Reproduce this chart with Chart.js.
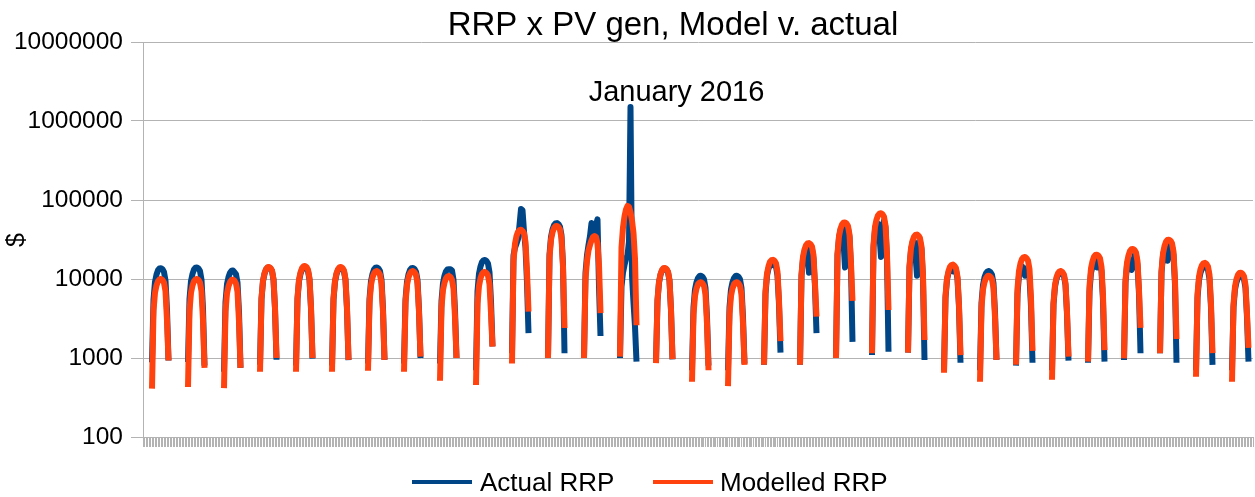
<!DOCTYPE html>
<html>
<head>
<meta charset="utf-8">
<script src="https://cdn.jsdelivr.net/npm/chart.js@4/dist/chart.umd.min.js"></script>
<style>
  html, body { margin: 0; padding: 0; background: #ffffff; }
</style>
</head>
<body>
<canvas id="myChart" width="1255" height="497"></canvas>
<script>
const titleText = 'RRP x PV gen, Model v. actual'
const noteText = 'January 2016'
const yTitle = '$'

// one representative day per month, hourly
const months = [
  'Dec 2014', 'Jan 2015', 'Feb 2015', 'Mar 2015', 'Apr 2015', 'May 2015', 'Jun 2015', 'Jul 2015',
  'Aug 2015', 'Sep 2015', 'Oct 2015', 'Nov 2015', 'Dec 2015', 'Jan 2016', 'Feb 2016', 'Mar 2016',
  'Apr 2016', 'May 2016', 'Jun 2016', 'Jul 2016', 'Aug 2016', 'Sep 2016', 'Oct 2016', 'Nov 2016',
  'Dec 2016', 'Jan 2017', 'Feb 2017', 'Mar 2017', 'Apr 2017', 'May 2017', 'Jun 2017'
]
const hours = [0, 1, 2, 3, 4, 5, 6, 7, 8, 9, 10, 11, 12, 13, 14, 15, 16, 17, 18, 19, 20, 21, 22, 23]
const pvHours = [6, 7, 8, 9, 10, 11, 12, 13, 14, 15, 16, 17]
const lastHour = 20

const actualRRP = [
  [880, 5500, 9200, 11400, 12900, 13600, 13700, 13300, 12300, 9600, 4100, 930],
  [890, 5600, 9400, 11600, 13200, 13900, 14000, 13600, 12600, 9800, 4200, 800],
  [670, 5100, 8600, 10600, 12000, 12700, 12800, 12200, 11500, 9000, 3800, 750],
  [820, 5600, 9400, 11600, 13200, 13900, 14000, 13600, 12600, 9800, 4200, 950],
  [800, 5600, 9400, 11600, 13200, 13900, 14000, 13600, 12600, 9800, 4200, 980],
  [800, 5500, 9200, 11500, 13000, 13700, 13800, 13400, 12400, 9700, 4100, 940],
  [850, 5600, 9400, 11600, 13200, 13900, 14000, 13600, 12600, 9800, 4200, 945],
  [850, 5500, 9200, 11500, 13000, 13700, 13800, 13400, 12400, 9700, 4100, 1000],
  [850, 5300, 8900, 11000, 12500, 13200, 13300, 13300, 12800, 9800, 4000, 1000],
  [700, 7000, 11700, 14400, 16400, 17200, 17400, 16900, 15700, 12200, 5200, 1400],
  [1150, 20000, 25000, 28000, 32000, 48000, 77000, 74000, 40000, 25000, 9000, 2070],
  [1000, 20400, 34200, 42300, 47900, 50500, 51000, 49500, 45900, 35700, 15300, 1150],
  [1000, 12000, 20000, 27000, 35000, 51000, 40000, 38000, 48000, 57000, 8000, 1900],
  [1000, 8000, 12000, 15000, 18000, 20000, 30000, 1500000, 11000, 5000, 2500, 900],
  [900, 5300, 9000, 11300, 12800, 13500, 13600, 13200, 12200, 9500, 4000, 960],
  [700, 4400, 7400, 9100, 10300, 10900, 11000, 10700, 9900, 7700, 3300, 800],
  [700, 4400, 7400, 9100, 10300, 10900, 11000, 10700, 9900, 7700, 3300, 850],
  [820, 6500, 11000, 13500, 15000, 15500, 15000, 15500, 14500, 11000, 4800, 1170],
  [820, 11000, 18000, 22000, 25000, 20000, 12000, 22000, 24000, 18000, 8000, 2070],
  [1000, 20000, 33000, 42000, 45000, 30000, 14000, 35000, 44000, 34000, 14000, 1600],
  [1090, 25000, 42000, 52000, 50000, 35000, 19000, 45000, 55000, 45000, 18000, 1200],
  [1170, 14000, 23000, 29000, 30000, 20000, 11000, 25000, 30000, 24000, 10000, 945],
  [700, 5800, 9800, 12000, 13200, 13500, 12500, 13500, 13000, 10000, 4400, 870],
  [700, 5000, 8400, 10500, 11800, 12500, 12600, 12200, 11300, 8800, 3800, 945],
  [800, 6500, 11000, 13500, 14500, 13000, 11000, 13700, 13000, 10500, 4500, 870],
  [700, 4800, 8000, 10000, 11300, 11900, 12000, 11600, 10800, 8400, 3600, 925],
  [870, 7000, 12000, 14500, 16500, 17000, 14000, 17500, 16000, 12500, 5300, 900],
  [945, 9000, 15000, 18000, 16000, 13000, 15000, 20000, 20000, 15000, 6500, 1150],
  [1150, 12000, 20000, 24000, 22000, 17000, 22000, 28000, 26000, 20000, 8500, 870],
  [700, 5800, 9700, 12000, 13500, 14300, 14500, 14000, 13000, 10000, 4300, 820],
  [700, 4400, 7400, 9100, 10300, 10900, 11000, 10700, 9900, 7700, 3300, 900]
]

const modelledRRP = [
  [410, 4000, 6700, 8300, 9400, 9900, 10000, 9700, 9000, 7000, 3000, 930],
  [430, 4000, 6700, 8300, 9400, 9900, 10000, 9700, 9000, 7000, 3000, 750],
  [415, 3900, 6600, 8100, 9200, 9700, 9800, 9500, 8800, 6900, 2900, 750],
  [670, 5700, 9500, 11800, 13300, 14100, 14200, 13800, 12800, 9900, 4300, 1000],
  [670, 5800, 9800, 12100, 13700, 14500, 14600, 14200, 13100, 10200, 4400, 1000],
  [670, 5700, 9500, 11800, 13300, 14100, 14200, 13800, 12800, 9900, 4300, 945],
  [690, 5000, 8400, 10500, 11800, 12500, 12600, 12200, 11300, 8800, 3800, 945],
  [670, 5000, 8400, 10500, 11800, 12500, 12600, 12200, 11300, 8800, 3800, 1040],
  [516, 4400, 7300, 9000, 10200, 10800, 10900, 10600, 9800, 7600, 3300, 1000],
  [455, 4900, 8200, 10200, 11600, 12200, 12300, 11900, 11100, 8600, 3700, 1390],
  [850, 16800, 28000, 35000, 39500, 41600, 42000, 40700, 37800, 29400, 12600, 3860],
  [1000, 18800, 31500, 39000, 44200, 46500, 47000, 45600, 42300, 32900, 14100, 2400],
  [1000, 10000, 17000, 23000, 27000, 31000, 34000, 35000, 34000, 28000, 15000, 3700],
  [1040, 25000, 45000, 62000, 76000, 84000, 82000, 70000, 55000, 38000, 18000, 2600],
  [860, 5500, 9200, 11500, 13000, 13700, 13800, 13400, 12400, 9700, 4100, 970],
  [500, 3600, 6100, 7600, 8600, 9000, 9100, 8800, 8200, 6400, 2700, 700],
  [440, 3600, 6100, 7600, 8600, 9000, 9100, 8800, 8200, 6400, 2700, 820],
  [820, 7000, 11700, 14500, 16500, 17300, 17500, 17000, 15800, 12300, 5300, 1640],
  [820, 11400, 19100, 23700, 26800, 28200, 28500, 27600, 25700, 20000, 8600, 3330],
  [1000, 20800, 34800, 43200, 48900, 51500, 52000, 50400, 46800, 36400, 15600, 5300],
  [1150, 27000, 45600, 56400, 63900, 67300, 68000, 66000, 61200, 47600, 20400, 4050],
  [1170, 14600, 24500, 30300, 34300, 36100, 36500, 35400, 32900, 25600, 11000, 1690],
  [650, 6100, 10200, 12600, 14300, 15000, 15200, 14700, 13700, 10600, 4600, 1090],
  [500, 4400, 7400, 9100, 10300, 10900, 11000, 10700, 9900, 7700, 3300, 945],
  [820, 7600, 12700, 15800, 17900, 18800, 19000, 18400, 17100, 13300, 5700, 1230],
  [530, 5000, 8400, 10500, 11800, 12500, 12600, 12200, 11300, 8800, 3800, 1040],
  [900, 8100, 13600, 16800, 19100, 20100, 20300, 19700, 18300, 14200, 6100, 1260],
  [990, 9600, 16100, 19900, 22600, 23800, 24000, 23300, 21600, 16800, 7200, 2400],
  [1150, 12600, 21100, 26100, 29600, 31200, 31500, 30600, 28400, 22100, 9500, 1740],
  [580, 6400, 10700, 13300, 15000, 15800, 16000, 15500, 14400, 11200, 4800, 1150],
  [500, 4800, 8000, 10000, 11300, 11900, 12000, 11600, 10800, 8400, 3600, 1340]
]

const yTicks = [100, 1000, 10000, 100000, 1000000, 10000000]
const noteMonth = 'Jan 2016'
const noteHour = 13

// flatten to one category per hour, nights left empty
const labels = []
const actualData = []
const modelData = []
months.forEach((month, m) => {
  hours.forEach((hour) => {
    if (m === months.length - 1 && hour > lastHour) return
    labels.push(`${month} ${hour}:00`)
    const k = pvHours.indexOf(hour)
    actualData.push(k >= 0 ? actualRRP[m][k] : null)
    modelData.push(k >= 0 ? modelledRRP[m][k] : null)
  })
})

const fontFamily = '"Liberation Sans", Arial, sans-serif'

const textPlugin = {
  id: 'textPlugin',
  afterDraw(chart) {
    const { ctx } = chart
    ctx.save()
    ctx.fillStyle = '#000000'
    ctx.textAlign = 'center'
    ctx.textBaseline = 'alphabetic'

    ctx.font = `33px ${fontFamily}`
    ctx.fillText(titleText, 673, 35)

    const spikeX = chart.scales.x.getPixelForValue(labels.indexOf(`${noteMonth} ${noteHour}:00`))
    ctx.font = `29px ${fontFamily}`
    ctx.fillText(noteText, spikeX + 46, 101)

    ctx.save()
    ctx.translate(17, 240)
    ctx.rotate(-Math.PI / 2)
    ctx.font = `25px ${fontFamily}`
    ctx.textBaseline = 'middle'
    ctx.fillText(yTitle, 0, 0)
    ctx.restore()

    // legend
    const legendPos = [{ line: 412, text: 480 }, { line: 653, text: 720 }]
    ctx.font = `26px ${fontFamily}`
    ctx.textAlign = 'left'
    chart.data.datasets.forEach((ds, i) => {
      ctx.fillStyle = ds.borderColor
      ctx.fillRect(legendPos[i].line, 480, 60, 4)
      ctx.fillStyle = '#000000'
      ctx.fillText(ds.label, legendPos[i].text, 491)
    })
    ctx.restore()
  }
}

const canvas = document.getElementById('myChart')

const myChart = new Chart(canvas, {
  type: 'line',
  data: {
    labels,
    datasets: [
      {
        label: 'Actual RRP',
        data: actualData,
        borderColor: '#004586',
        backgroundColor: '#004586',
        borderWidth: 6,
        pointRadius: 0,
        borderJoinStyle: 'round',
        order: 2,
      },
      {
        label: 'Modelled RRP',
        data: modelData,
        borderColor: '#ff420e',
        backgroundColor: '#ff420e',
        borderWidth: 6,
        pointRadius: 0,
        borderJoinStyle: 'round',
        order: 1,
      },
    ],
  },
  options: {
    responsive: false,
    animation: false,
    layout: { padding: { top: 42, left: 10, right: 2, bottom: 50 } },
    plugins: {
      legend: { display: false },
      title: { display: false },
      tooltip: { enabled: false },
    },
    scales: {
      x: {
        type: 'category',
        ticks: { display: false },
        grid: { drawOnChartArea: false, drawTicks: true, tickLength: 10, color: '#b3b3b3' },
        border: { color: '#b3b3b3' },
      },
      y: {
        type: 'logarithmic',
        min: 100,
        max: 10000000,
        afterBuildTicks: (scale) => {
          scale.ticks = yTicks.map((v) => ({ value: v }))
        },
        afterFit: (scale) => {
          scale.width = 133
        },
        ticks: {
          color: '#000000',
          font: { family: fontFamily, size: 24.5 },
          padding: 8,
          callback: (value) => String(value),
        },
        grid: { color: '#b3b3b3', tickLength: 12 },
        border: { color: '#b3b3b3' },
      },
    },
  },
  plugins: [textPlugin],
})
</script>
</body>
</html>
